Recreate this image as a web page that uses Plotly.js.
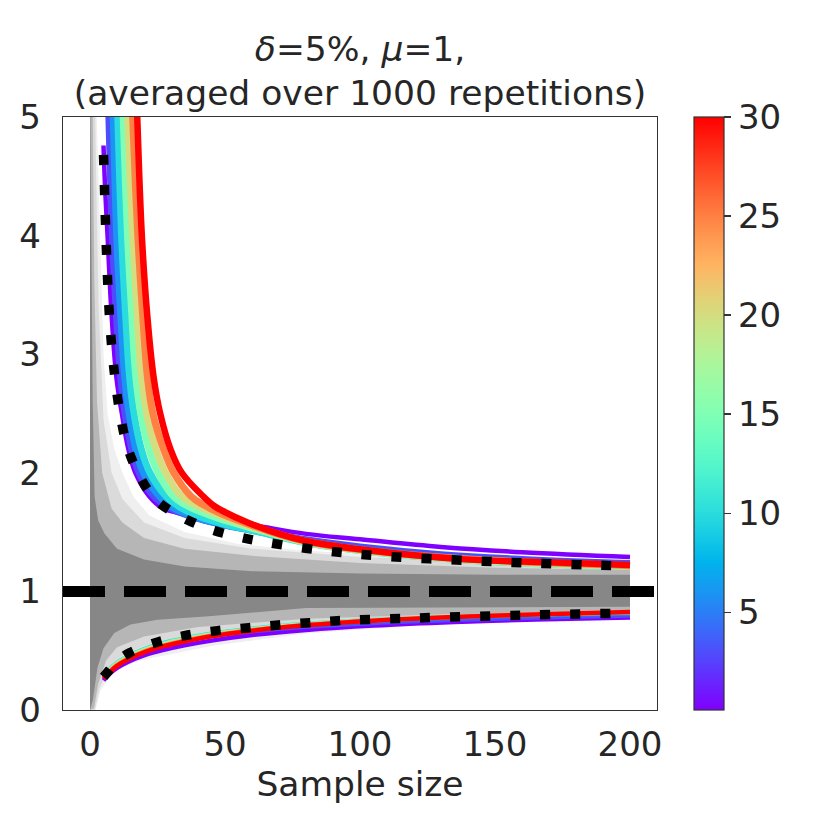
<!DOCTYPE html>
<html>
<head>
<meta charset="utf-8">
<script src="https://cdn.plot.ly/plotly-3.0.1.min.js"></script>
<style>html,body{margin:0;padding:0;background:#fff;}#chart{width:830px;height:830px;}</style>
</head>
<body>
<div id="chart"></div>
<script>
// ---------------- data ----------------
const MU = 1;
const X_TICKS = [0, 50, 100, 150, 200];
const Y_TICKS = [0, 1, 2, 3, 4, 5];
const CB_TICKS = [5, 10, 15, 20, 25, 30];
const CB_MIN = 0.06, CB_MAX = 30;

// gray band of sample paths: outer (sparse) ... core (dense)
const OUTER_UP_N = [0, 1.5, 2.5, 3.1, 4.2, 5, 6.5, 9, 12, 16, 22, 35, 55, 77, 110, 150, 200];
const OUTER_UP_Y = [6, 6, 5, 4.5, 3.5, 3.0, 2.5, 2.2, 2.0, 1.8, 1.64, 1.5, 1.4, 1.35, 1.3, 1.25, 1.22];
const OUTER_LO_N = [0, 2, 4, 8.7, 15, 21, 45, 80, 120, 160, 200];
const OUTER_LO_Y = [0, 0, 0.17, 0.32, 0.39, 0.43, 0.54, 0.645, 0.71, 0.75, 0.785];

const LIGHT_UP_N = [0, 1.3, 2.2, 3.2, 5, 8, 12, 20, 35, 60, 100, 150, 200];
const LIGHT_UP_Y = [6, 6, 4.6, 3.4, 2.45, 2.0, 1.78, 1.58, 1.45, 1.36, 1.29, 1.245, 1.205];
const LIGHT_LO_N = [0, 1.8, 3.5, 7, 12, 20, 40, 80, 130, 200];
const LIGHT_LO_Y = [0, 0, 0.18, 0.36, 0.46, 0.54, 0.63, 0.71, 0.76, 0.81];

const MID_UP_N = [0, 0.8, 1.6, 2.6, 4.5, 8, 12, 20, 35, 60, 100, 150, 200];
const MID_UP_Y = [6, 5.5, 3.6, 2.6, 2.0, 1.7, 1.58, 1.45, 1.36, 1.3, 1.24, 1.2, 1.18];
const MID_LO_N = [0, 1.5, 3, 6, 10, 20, 40, 80, 130, 200];
const MID_LO_Y = [0, 0.02, 0.22, 0.42, 0.53, 0.62, 0.7, 0.77, 0.805, 0.835];

const CORE_UP_N = [0, 0.4, 1, 1.7, 3, 5.3, 10, 20, 35, 60, 100, 150, 200];
const CORE_UP_Y = [5.3, 4.2, 2.6, 1.8, 1.6, 1.49, 1.36, 1.27, 1.21, 1.17, 1.15, 1.14, 1.14];
const CORE_LO_N = [0, 1, 2.8, 5, 9, 15, 25, 44, 80, 130, 200];
const CORE_LO_Y = [0, 0.08, 0.36, 0.52, 0.65, 0.72, 0.76, 0.79, 0.86, 0.865, 0.87];

// coloured bounds, one per parameter value
const PARAMS = [0.06, 3, 6, 10, 15, 20, 25, 30];

const UPPER_N = [
  [5, 5.6, 6.5, 8, 9.8, 11.8, 14.2, 16.8, 22, 27, 32, 40, 50, 60, 80, 100, 130, 160, 200],
  [6.3, 7.0, 8.3, 9.8, 11.4, 13, 15.5, 18.2, 23.8, 30, 40, 50, 60, 80, 100, 130, 160, 200],
  [7.8, 8.6, 9.9, 11.4, 12.9, 14.5, 17, 19.8, 25.8, 32, 40, 50, 60, 80, 100, 130, 160, 200],
  [9.5, 10.3, 11.7, 13.2, 14.7, 16.3, 19, 22.2, 28.3, 34, 40, 50, 60, 80, 100, 130, 160, 200],
  [11.5, 12.3, 13.9, 15.5, 17.0, 18.8, 21.8, 25.2, 31, 37, 44, 52, 62, 80, 100, 130, 160, 200],
  [13.2, 14, 15.8, 17.5, 19.1, 21, 24.4, 28, 34, 40, 47, 55, 65, 80, 100, 130, 160, 200],
  [15, 15.8, 17.7, 19.5, 21.3, 23.3, 27.2, 31, 37.5, 42, 48, 56, 66, 80, 100, 130, 160, 200],
  [16.6, 17.5, 19.2, 21.2, 23.6, 26, 29.8, 34, 42, 46, 49, 59, 70, 80, 100, 139, 170, 200]
];
const UPPER_Y = [
  [4.76, 4.4, 4.0, 3.33, 2.8, 2.5, 2.2, 2.0, 1.8, 1.70, 1.665, 1.63, 1.59, 1.56, 1.485, 1.44, 1.375, 1.33, 1.29],
  [5.6, 5, 4, 3.33, 2.8, 2.5, 2.2, 2.0, 1.8, 1.70, 1.615, 1.56, 1.52, 1.435, 1.375, 1.31, 1.27, 1.235],
  [5.6, 5, 4, 3.33, 2.8, 2.5, 2.2, 2.0, 1.8, 1.69, 1.62, 1.56, 1.515, 1.42, 1.355, 1.29, 1.25, 1.218],
  [5.6, 5, 4, 3.33, 2.8, 2.5, 2.2, 2.0, 1.8, 1.70, 1.635, 1.565, 1.515, 1.41, 1.345, 1.28, 1.24, 1.21],
  [5.6, 5, 4, 3.33, 2.8, 2.5, 2.2, 2.0, 1.8, 1.71, 1.645, 1.585, 1.52, 1.412, 1.345, 1.28, 1.24, 1.21],
  [5.6, 5, 4, 3.33, 2.8, 2.5, 2.2, 2.0, 1.8, 1.72, 1.65, 1.58, 1.51, 1.418, 1.35, 1.284, 1.245, 1.213],
  [5.6, 5, 4, 3.33, 2.8, 2.5, 2.2, 2.0, 1.8, 1.73, 1.66, 1.59, 1.51, 1.423, 1.352, 1.287, 1.25, 1.217],
  [5.6, 5, 4, 3.33, 2.8, 2.5, 2.2, 2.0, 1.8, 1.72, 1.68, 1.575, 1.485, 1.425, 1.355, 1.27, 1.245, 1.223]
];

const LOWER_N = [5, 7, 10, 14, 20, 27, 35, 45, 60, 80, 105, 135, 165, 200];
const LOWER_Y = [
  [0.25, 0.30, 0.355, 0.405, 0.46, 0.505, 0.545, 0.585, 0.632, 0.675, 0.712, 0.742, 0.763, 0.78],
  [0.27, 0.325, 0.385, 0.44, 0.50, 0.548, 0.585, 0.622, 0.662, 0.70, 0.732, 0.758, 0.778, 0.795],
  [0.28, 0.335, 0.395, 0.45, 0.51, 0.56, 0.598, 0.638, 0.678, 0.717, 0.75, 0.778, 0.798, 0.813],
  [0.285, 0.34, 0.40, 0.455, 0.515, 0.565, 0.605, 0.645, 0.688, 0.727, 0.76, 0.787, 0.806, 0.822],
  [0.28, 0.335, 0.395, 0.45, 0.51, 0.56, 0.60, 0.64, 0.684, 0.725, 0.759, 0.787, 0.806, 0.823],
  [0.275, 0.328, 0.388, 0.442, 0.502, 0.552, 0.593, 0.634, 0.679, 0.721, 0.757, 0.786, 0.806, 0.824],
  [0.27, 0.32, 0.38, 0.434, 0.494, 0.544, 0.586, 0.628, 0.674, 0.718, 0.755, 0.785, 0.806, 0.825],
  [0.265, 0.312, 0.372, 0.426, 0.486, 0.536, 0.578, 0.622, 0.669, 0.714, 0.753, 0.784, 0.806, 0.826]
];

// black dotted theoretical bounds
const DOT_UP_N = [5, 5.2, 5.5, 5.85, 6.25, 6.75, 7.4, 8.3, 9.5, 11.2, 13.7, 17.8, 24, 33, 43.7, 54, 65, 87, 110, 140, 165, 189, 200];
const DOT_UP_Y = [4.68, 4.54, 4.28, 4.03, 3.77, 3.51, 3.25, 3.0, 2.75, 2.49, 2.23, 2.0, 1.78, 1.64, 1.53, 1.465, 1.415, 1.343, 1.295, 1.26, 1.237, 1.22, 1.213];
const DOT_LO_N = [5, 6.3, 10, 14.7, 25.4, 36.2, 47.2, 58.8, 69.8, 81.2, 91.7, 120, 160, 193.6, 200];
const DOT_LO_Y = [0.28, 0.314, 0.41, 0.483, 0.576, 0.632, 0.669, 0.694, 0.717, 0.736, 0.753, 0.775, 0.80, 0.815, 0.818];

// ---------------- styling helpers ----------------
function rainbow(t) {
  const c = v => Math.max(0, Math.min(1, v));
  const r = c(Math.abs(2 * t - 0.5)), g = c(Math.sin(Math.PI * t)), b = c(Math.cos(Math.PI * t / 2));
  return 'rgb(' + Math.round(r * 255) + ',' + Math.round(g * 255) + ',' + Math.round(b * 255) + ')';
}
const colorscale = [];
for (let i = 0; i <= 20; i++) colorscale.push([i / 20, rainbow(i / 20)]);
const pcol = p => rainbow((p - CB_MIN) / (CB_MAX - CB_MIN));

function band(upN, upY, loN, loY, color) {
  return {
    type: 'scatter', mode: 'lines', x: upN.concat(loN.slice().reverse()),
    y: upY.concat(loY.slice().reverse()), fill: 'toself', fillcolor: color,
    line: {width: 0, color: color}, hoverinfo: 'skip', showlegend: false
  };
}

const traces = [];
traces.push(band(OUTER_UP_N, OUTER_UP_Y, OUTER_LO_N, OUTER_LO_Y, '#efefef'));
traces.push(band(LIGHT_UP_N, LIGHT_UP_Y, LIGHT_LO_N, LIGHT_LO_Y, '#dadada'));
traces.push(band(MID_UP_N, MID_UP_Y, MID_LO_N, MID_LO_Y, '#b6b6b6'));
traces.push(band(CORE_UP_N, CORE_UP_Y, CORE_LO_N, CORE_LO_Y, '#878787'));

PARAMS.forEach((p, i) => {
  const first = i === 0, last = i === PARAMS.length - 1;
  traces.push({type: 'scatter', mode: 'lines', x: UPPER_N[i], y: UPPER_Y[i],
    line: {color: pcol(p), width: first ? 4.5 : (last ? 6.5 : 7), shape: 'spline', smoothing: 1.1}, showlegend: false, hoverinfo: 'skip'});
  traces.push({type: 'scatter', mode: 'lines', x: LOWER_N, y: LOWER_Y[i],
    line: {color: pcol(p), width: (first || last) ? 4.5 : 4, shape: 'spline', smoothing: 1.1}, showlegend: false, hoverinfo: 'skip'});
});

traces.push({type: 'scatter', mode: 'lines', x: DOT_UP_N, y: DOT_UP_Y,
  line: {color: 'black', width: 9.5, dash: '10px,20px', shape: 'spline', smoothing: 1}, showlegend: false, hoverinfo: 'skip'});
traces.push({type: 'scatter', mode: 'lines', x: DOT_LO_N, y: DOT_LO_Y,
  line: {color: 'black', width: 9.5, dash: '10px,20px', shape: 'spline', smoothing: 1}, showlegend: false, hoverinfo: 'skip'});

// colour bar carrier (invisible marker on an existing data point)
traces.push({type: 'scatter', mode: 'markers', x: [LOWER_N[LOWER_N.length - 1]], y: [LOWER_Y[0][LOWER_Y[0].length - 1]],
  marker: {size: 1, opacity: 0, color: [CB_MIN], cmin: CB_MIN, cmax: CB_MAX, colorscale: colorscale, showscale: true,
    colorbar: {x: 1.0623, xanchor: 'left', xpad: 0, ypad: 0, y: 0.5, yanchor: 'middle', len: 1, lenmode: 'fraction',
      thickness: 30, thicknessmode: 'pixels', outlinewidth: 1.2, outlinecolor: '#333',
      tickmode: 'array', tickvals: CB_TICKS, ticktext: CB_TICKS.map(String), ticks: 'outside', ticklen: 7, tickwidth: 1.2, tickcolor: '#333',
      tickfont: {family: 'DejaVu Sans', size: 34, color: '#262626'}}},
  showlegend: false, hoverinfo: 'skip'});

const layout = {
  width: 830, height: 830, autosize: false,
  margin: {l: 63, r: 173, t: 117, b: 120},
  paper_bgcolor: '#fff', plot_bgcolor: '#fff',
  font: {family: 'DejaVu Sans', color: '#262626'},
  showlegend: false,
  title: {text: '<i>δ</i>=5%, <i>μ</i>=1,<br>(averaged over 1000 repetitions)',
    font: {family: 'DejaVu Sans', size: 34.5, color: '#262626'},
    x: 0.5, xref: 'paper', xanchor: 'center', y: 0.927, yref: 'container', yanchor: 'top'},
  xaxis: {range: [-10, 210], tickmode: 'array', tickvals: X_TICKS, ticktext: X_TICKS.map(String),
    showgrid: false, zeroline: false, showline: true, mirror: true, linecolor: '#333', linewidth: 1.3,
    ticks: '', ticklabelstandoff: 4, tickfont: {family: 'DejaVu Sans', size: 34, color: '#262626'},
    title: {text: 'Sample size', font: {family: 'DejaVu Sans', size: 34.5, color: '#262626'}, standoff: 4}},
  yaxis: {range: [0, 5], tickmode: 'array', tickvals: Y_TICKS, ticktext: Y_TICKS.map(String),
    showgrid: false, zeroline: false, showline: true, mirror: true, linecolor: '#333', linewidth: 1.3,
    ticks: '', ticklabelstandoff: 14, tickfont: {family: 'DejaVu Sans', size: 34, color: '#262626'}},
  shapes: [{type: 'line', xref: 'paper', x0: 0, x1: 1, yref: 'y', y0: MU, y1: MU,
    line: {color: 'black', width: 11, dash: '42px,19px'}, layer: 'above'}]
};

Plotly.newPlot('chart', traces, layout, {displayModeBar: false, staticPlot: true});
</script>
</body>
</html>
